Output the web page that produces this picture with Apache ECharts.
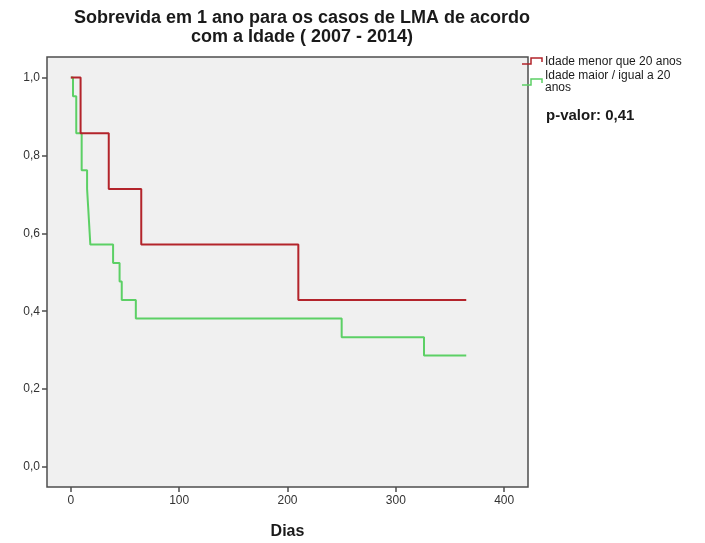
<!DOCTYPE html>
<html>
<head>
<meta charset="utf-8">
<script src="https://cdn.jsdelivr.net/npm/echarts@6/dist/echarts.min.js"></script>
<style>
  html, body { margin: 0; padding: 0; background: #fff; }
  #chart { width: 705px; height: 543px; }
</style>
</head>
<body>
<div id="chart"></div>
<script>
// Kaplan-Meier survival estimates (days, cumulative survival)
const groupNames = ['Idade menor que 20 anos', 'Idade maior / igual a 20 anos'];

const youngDays = [0, 9, 35, 65, 210, 365];
const youngSurv = [1.0, 0.857, 0.714, 0.571, 0.429, 0.429];

const olderDays = [0, 2, 5, 10, 15, 16, 17, 18, 39, 45, 47, 60, 250, 326, 365];
const olderSurv = [1.0, 0.952, 0.857, 0.762, 0.714, 0.667, 0.619, 0.571, 0.524, 0.476, 0.429, 0.381, 0.333, 0.286, 0.286];

const xTicks = [0, 100, 200, 300, 400];
const yTicks = [0.0, 0.2, 0.4, 0.6, 0.8, 1.0];

const pValueText = 'p-valor: 0,41';

const zip = (xs, ys) => xs.map((x, i) => [x, ys[i]]);

const RED = '#b3242b';
const GREEN = '#5cd065';
const FONT = '"Liberation Sans", Arial, sans-serif';

const chart = echarts.init(document.getElementById('chart'), null, { renderer: 'canvas' });

chart.setOption({
  animation: false,
  backgroundColor: '#ffffff',
  title: {
    text: 'Sobrevida em 1 ano para os casos de LMA de acordo\ncom a Idade ( 2007 - 2014)',
    left: 297,
    top: 4,
    textAlign: 'center',
    textStyle: {
      fontFamily: FONT,
      fontSize: 18,
      fontWeight: 'bold',
      color: '#1a1a1a',
      lineHeight: 19
    }
  },
  grid: {
    left: 47,
    right: 177,
    top: 57,
    bottom: 56,
    containLabel: false,
    outerBoundsMode: 'none',
    show: true,
    backgroundColor: '#f0f0f0',
    borderColor: '#4d4d4d',
    borderWidth: 1.5
  },
  xAxis: {
    type: 'value',
    min: -22,
    max: 422,
    name: 'Dias',
    nameLocation: 'middle',
    nameGap: 37,
    nameTextStyle: { fontFamily: FONT, fontSize: 16, fontWeight: 'bold', color: '#1a1a1a' },
    axisLine: { show: false, onZero: false },
    splitLine: { show: false },
    axisTick: {
      show: true,
      length: 5,
      lineStyle: { color: '#4d4d4d', width: 1.5 },
      customValues: xTicks
    },
    axisLabel: {
      fontFamily: FONT,
      fontSize: 12,
      color: '#333',
      margin: 8,
      customValues: xTicks
    }
  },
  yAxis: {
    type: 'value',
    min: -0.0513,
    max: 1.0526,
    axisLine: { show: false, onZero: false },
    splitLine: { show: false },
    axisTick: {
      show: true,
      length: 5,
      lineStyle: { color: '#4d4d4d', width: 1.5 },
      customValues: yTicks
    },
    axisLabel: {
      fontFamily: FONT,
      fontSize: 12,
      color: '#333',
      margin: 7,
      customValues: yTicks,
      formatter: v => v.toFixed(1).replace('.', ',')
    }
  },
  series: [
    {
      name: groupNames[0],
      type: 'line',
      step: 'end',
      data: zip(youngDays, youngSurv),
      showSymbol: false,
      lineStyle: { color: RED, width: 2 },
      z: 3
    },
    {
      name: groupNames[1],
      type: 'line',
      step: 'end',
      data: zip(olderDays, olderSurv),
      showSymbol: false,
      lineStyle: { color: GREEN, width: 2 },
      z: 2
    }
  ],
  graphic: [
    {
      type: 'polyline',
      shape: { points: [[522, 64], [531, 64], [531, 58], [542, 58], [542, 62]] },
      style: { stroke: RED, lineWidth: 1.5, fill: null }
    },
    {
      type: 'text',
      left: 545,
      top: 56,
      style: { text: groupNames[0], font: '12px ' + FONT, fill: '#1a1a1a' }
    },
    {
      type: 'polyline',
      shape: { points: [[522, 85], [531, 85], [531, 79], [542, 79], [542, 83]] },
      style: { stroke: GREEN, lineWidth: 1.5, fill: null }
    },
    {
      type: 'text',
      left: 545,
      top: 70,
      style: { text: 'Idade maior / igual a 20\nanos', font: '12px ' + FONT, fill: '#1a1a1a', lineHeight: 12 }
    },
    {
      type: 'text',
      left: 546,
      top: 108,
      style: { text: pValueText, font: 'bold 15px ' + FONT, fill: '#1a1a1a' }
    }
  ]
});
</script>
</body>
</html>
